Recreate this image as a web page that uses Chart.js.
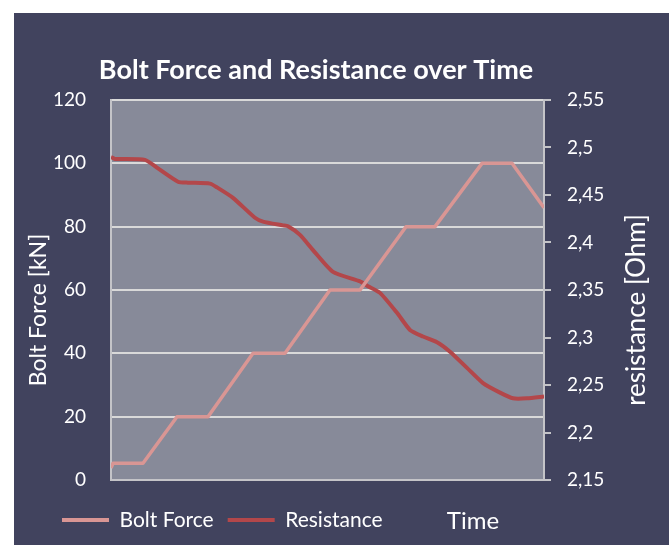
<!DOCTYPE html>
<html>
<head>
<meta charset="utf-8">
<script src="https://cdn.jsdelivr.net/npm/chart.js@4.4.0/dist/chart.umd.min.js"></script>
<style>
  body { margin: 0; background: #ffffff; }
  #panel { position: absolute; left: 14px; top: 13px; width: 655px; height: 532px; background: #41435e; }
  canvas { display: block; }
</style>
</head>
<body>
<div id="panel"><canvas id="chart" width="655" height="532"></canvas></div>
<script>
// ---------- data ----------
const forceTime  = [0, 2, 32, 66, 97, 142, 174, 219, 249, 295, 324, 371, 401, 433];
const boltForce  = [3.8, 5.3, 5.3, 20, 20, 40, 40, 60, 60, 80, 80, 100, 100, 86];

const resTime    = [0, 4, 34, 47, 67, 77, 99, 106, 122, 144, 152, 172, 177, 189, 202, 222, 249, 257, 269, 286, 299, 312, 326, 339, 356, 372, 389, 402, 416, 433];
const resistance = [2.490, 2.488, 2.487, 2.478, 2.464, 2.463, 2.462, 2.458, 2.447, 2.426, 2.422, 2.418, 2.417, 2.408, 2.392, 2.369, 2.359, 2.354, 2.347, 2.326, 2.308, 2.301, 2.295, 2.285, 2.268, 2.252, 2.242, 2.236, 2.236, 2.238];

const forceTicks = { min: 0, max: 120, step: 20 };
const resTicks   = { min: 2.15, max: 2.55, step: 0.05 };

const chartTitle = 'Bolt Force and Resistance over Time';

// ---------- colours ----------
const C = {
  panel: '#41435e',
  plot: '#878a99',
  grid: '#d9d9d9',
  axis: '#c4c4c8',
  text: '#ffffff',
  force: '#d99694',
  res: '#b3474a'
};
const FONT = 'Lato, "Open Sans", sans-serif';

const toPts = (xs, ys) => xs.map((x, i) => ({ x: x, y: ys[i] }));

// plot background + titles placed like excel does it
const extras = {
  id: 'extras',
  beforeDraw(chart) {
    const { ctx, chartArea: a } = chart;
    ctx.save();
    ctx.fillStyle = C.plot;
    ctx.fillRect(a.left, a.top, a.right - a.left, a.bottom - a.top);
    ctx.restore();
  },
  afterDraw(chart) {
    const { ctx } = chart;
    ctx.save();
    ctx.fillStyle = C.text;
    ctx.textAlign = 'center';
    ctx.textBaseline = 'middle';
    // chart title (excel puts it a bit left of centre)
    ctx.font = 'bold 27px ' + FONT;
    ctx.fillText(chartTitle, 302, 57);
    // left title
    ctx.font = '23px ' + FONT;
    ctx.save();
    ctx.translate(25, 297);
    ctx.rotate(-Math.PI / 2);
    ctx.fillText('Bolt Force [kN]', 0, 0);
    ctx.restore();
    // right title (reads upwards like the original)
    ctx.font = '26px ' + FONT;
    ctx.save();
    ctx.translate(623, 297);
    ctx.rotate(-Math.PI / 2);
    ctx.fillText('resistance [Ohm]', 0, 0);
    ctx.restore();
    // x axis title sits next to the legend
    ctx.font = '24px ' + FONT;
    ctx.fillText('Time', 459, 508);
    ctx.restore();
  }
};

new Chart(document.getElementById('chart'), {
  type: 'line',
  data: {
    datasets: [
      { label: 'Bolt Force', data: toPts(forceTime, boltForce), yAxisID: 'y',
        borderColor: C.force, backgroundColor: C.force, borderWidth: 3.5,
        pointRadius: 0, tension: 0, borderJoinStyle: 'round' },
      { label: 'Resistance', data: toPts(resTime, resistance), yAxisID: 'y1',
        borderColor: C.res, backgroundColor: C.res, borderWidth: 4,
        pointRadius: 0, tension: 0.2, borderJoinStyle: 'round' }
    ]
  },
  options: {
    responsive: false,
    animation: false,
    layout: { padding: { left: 34, right: 0, top: 87, bottom: 4.5 } },
    plugins: {
      title: { display: false },
      legend: {
        position: 'bottom',
        align: 'start',
        labels: {
          color: C.text,
          font: { family: FONT, size: 21 },
          boxWidth: 47,
          boxHeight: 4,
          padding: 14,
          generateLabels: (chart) =>
            Chart.defaults.plugins.legend.labels.generateLabels(chart).map(l => ({ ...l, lineWidth: 0 }))
        }
      },
      tooltip: { enabled: false }
    },
    scales: {
      x: {
        type: 'linear',
        min: 0,
        max: 433,
        ticks: { display: false },
        grid: { display: false },
        border: { display: true, color: C.axis, width: 2 },
        afterFit: (s) => { s.height = 15.5; }
      },
      y: {
        position: 'left',
        min: forceTicks.min,
        max: forceTicks.max,
        ticks: { stepSize: forceTicks.step, color: C.text, font: { family: FONT, size: 19 }, padding: 25 },
        grid: { color: C.grid, lineWidth: 2, drawTicks: false },
        border: { color: C.axis, width: 2 },
        afterFit: (s) => { s.width = 63; }
      },
      y1: {
        position: 'right',
        min: resTicks.min,
        max: resTicks.max,
        ticks: {
          stepSize: resTicks.step,
          color: C.text,
          font: { family: FONT, size: 19 },
          padding: 16,
          callback: (v) => Number(v.toFixed(2)).toString().replace('.', ',')
        },
        grid: { drawOnChartArea: false, color: C.axis, lineWidth: 2, tickLength: 7 },
        border: { color: C.axis, width: 2 },
        afterFit: (s) => { s.width = 125; }
      }
    }
  },
  plugins: [extras]
});
</script>
</body>
</html>
